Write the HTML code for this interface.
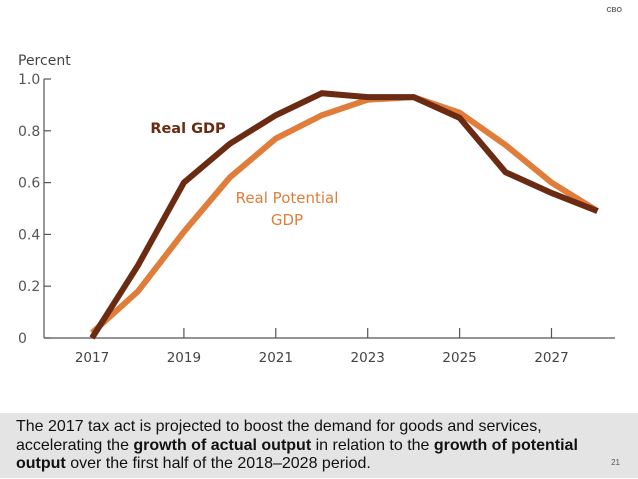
<!DOCTYPE html>
<html><head><meta charset="utf-8"><style>
body{margin:0;width:638px;height:479px;background:#fff;overflow:hidden;position:relative;font-family:"Liberation Sans",sans-serif}
#cap{position:absolute;left:0;top:413px;width:638px;height:65px;background:#e4e4e4}
#cap p{margin:0;position:absolute;left:16px;top:5px;font-size:16px;line-height:18.5px;color:#111;white-space:nowrap}
#pg{position:absolute;right:18px;top:458px;font-size:8px;color:#555}
#cbo{position:absolute;right:16px;top:7px;font-size:7px;color:#666;font-weight:bold}
</style></head><body>
<div id="cbo">CBO</div>
<svg id="chart" width="638" height="410" style="position:absolute;left:0;top:0"></svg>
<div id="cap"><p>The 2017 tax act is projected to boost the demand for goods and services,<br>accelerating the <b>growth of actual output</b> in relation to the <b>growth of potential</b><br><b>output</b> over the first half of the 2018–2028 period.</p></div>
<div id="pg">21</div>
<script>
const years=[2017,2018,2019,2020,2021,2022,2023,2024,2025,2026,2027,2028];
const realGDP=[0.0,0.28,0.60,0.75,0.86,0.945,0.93,0.93,0.85,0.64,0.56,0.49];
const potentialGDP=[0.02,0.18,0.41,0.62,0.77,0.86,0.92,0.93,0.87,0.745,0.60,0.49];
const yTicks=[0,0.2,0.4,0.6,0.8,1.0];
const yTickLabels=["0","0.2","0.4","0.6","0.8","1.0"];
const xTicks=[2017,2019,2021,2023,2025,2027];
const svg=document.getElementById('chart');
const NS='http://www.w3.org/2000/svg';
function X(v){return 92+(v-2017)*45.95;}
function Y(v){return 338-v*259;}
function mk(t,a){const e=document.createElementNS(NS,t);for(const k in a)e.setAttribute(k,a[k]);svg.appendChild(e);return e;}
const g='#555';
let ax=mk('line',{x1:44,y1:338,x2:615,y2:338,stroke:g,'stroke-width':1.2});


let ay=mk('line',{x1:44,y1:Y(1),x2:44,y2:338,stroke:g,'stroke-width':1.2});


yTicks.forEach((v,i)=>{
  mk('line',{x1:44,y1:Y(v),x2:51,y2:Y(v),stroke:g,'stroke-width':1.2});
  const t=mk('text',{x:18,y:Y(v)+5,'font-size':14,fill:'#555','font-family':'DejaVu Sans, sans-serif'});
  t.textContent=yTickLabels[i];
  
  
});
xTicks.forEach(v=>{
  if(v!==2017)mk('line',{x1:X(v),y1:328,x2:X(v),y2:338,stroke:g,'stroke-width':1.2});
  const t=mk('text',{x:X(v),y:362,'font-size':13.5,fill:'#444','text-anchor':'middle','font-family':'DejaVu Sans, sans-serif'});
  t.textContent=v;
  
  
});
const yt=mk('text',{x:18,y:65,'font-size':14,fill:'#444','font-family':'DejaVu Sans, sans-serif'});
yt.textContent='Percent';


function line(arr,c,name){
  const p=mk('polyline',{points:arr.map((v,i)=>X(years[i])+','+Y(v)).join(' '),fill:'none',stroke:c,'stroke-width':6,'stroke-linejoin':'miter'});
  
  
}
line(potentialGDP,'#e07d3a','real-potential-gdp-line');
line(realGDP,'#6b2a12','real-gdp-line');
const l1=mk('text',{x:188,y:133,'font-size':14.5,'font-weight':'bold',fill:'#6b2a12','text-anchor':'middle','font-family':'DejaVu Sans, sans-serif'});
l1.textContent='Real GDP';


const l2=mk('text',{x:287,y:203,'font-size':15,fill:'#e07d3a','text-anchor':'middle','font-family':'DejaVu Sans, sans-serif'});
l2.textContent='Real Potential';


const l3=mk('text',{x:287,y:225,'font-size':15,fill:'#e07d3a','text-anchor':'middle','font-family':'DejaVu Sans, sans-serif'});
l3.textContent='GDP';


</script>
</body></html>
